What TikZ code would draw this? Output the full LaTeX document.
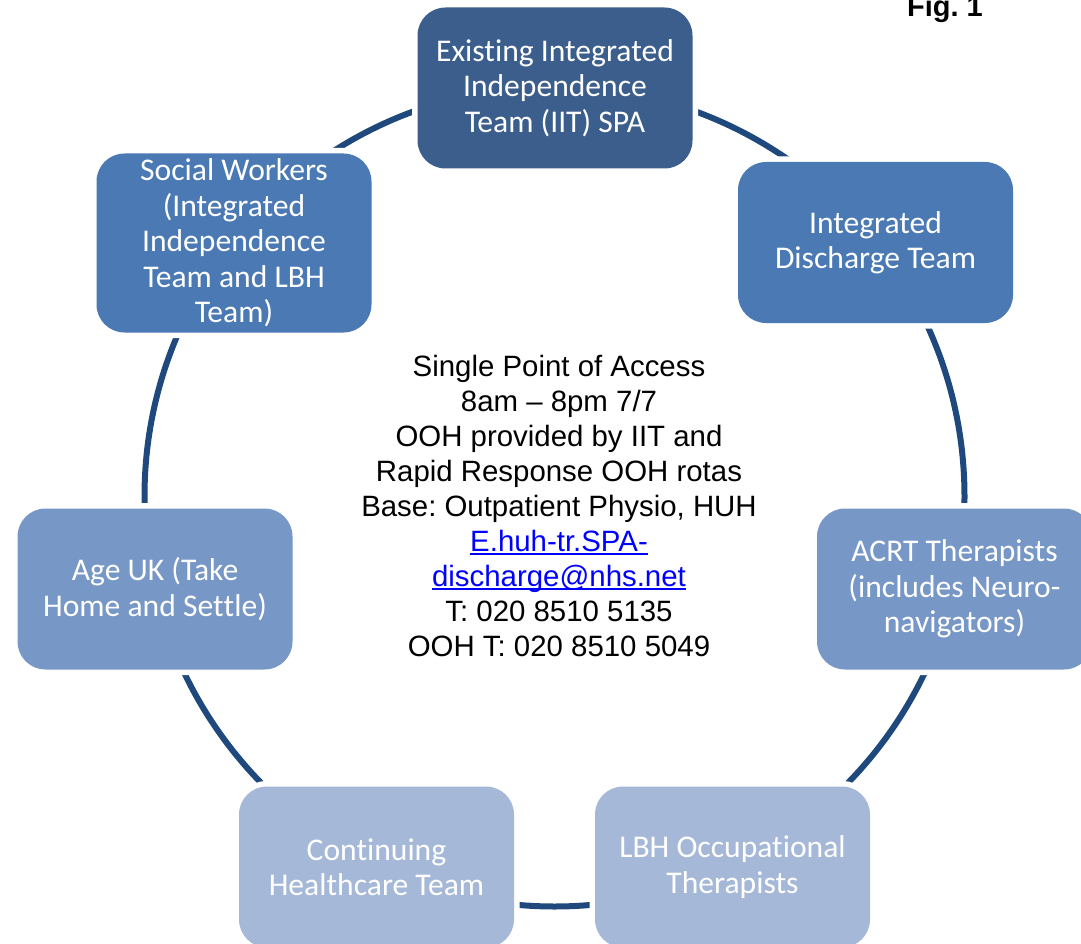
\documentclass[tikz,border=0pt]{standalone}
\usepackage{fontspec}
\setmainfont{Carlito}[Ligatures={NoCommon,NoContextual,NoRare}]
\newfontfamily\arialf{Liberation Sans}[Ligatures=TeX]
\definecolor{ringc}{HTML}{1F497D}
\definecolor{cA}{HTML}{3B5E8C}
\definecolor{cB}{HTML}{4A79B4}
\definecolor{cC}{HTML}{7797C6}
\definecolor{cD}{HTML}{A6B8D7}
\definecolor{linkc}{HTML}{0000FF}
\newcommand\myul[1]{\leavevmode\setbox0\hbox{#1}\rlap{\rule[-3.4pt]{\wd0}{1.7pt}}\box0}
\newcommand\nt{t\kern0pt }
\frenchspacing
\begin{document}
\begin{tikzpicture}[x=1pt,y=-1pt,
  boxst/.style={rounded corners=28pt, minimum width=275pt, minimum height=161pt,
    inner sep=0pt, text=white, align=center,
    font=\fontsize{31.6}{35.5}\selectfont,
    preaction={draw=white, line width=11pt}},
  ringst/.style={draw=ringc, line width=6pt}]
\useasboundingbox (0,0) rectangle (1081,944);
\clip (0,0) rectangle (1081,944);
\coordinate (O) at (554.5,496.5);
\draw[ringst] (O) circle[radius=410];
\node[boxst, fill=cA] (n1) at (555,88) {Exis\nt ing Integrated\\Independence\\Team (IIT) SPA};
\node[boxst, fill=cB] (n2) at (875.5,242.5) {Integrated\\Discharge Team};
\node[boxst, fill=cC] (n3) at (954.5,589) {ACRT Therapists\\(includes Neuro-\\navigators)};
\node[boxst, fill=cD] (n4) at (732.5,867) {LBH Occupa\nt ional\\Therapists};
\node[boxst, fill=cD] (n5) at (376.5,867) {Con\nt inuing\\Healthcare Team};
\node[boxst, fill=cC] (n6) at (155,589) {Age UK (Take\\Home and Se\nt\nt le)};
\node[boxst, fill=cB, minimum height=179pt] (n7) at (234,243) {Social Workers\\(Integrated\\Independence\\Team and LBH\\Team)};
\node[align=center, font=\arialf\fontsize{29.4}{35.1}\selectfont, inner sep=0pt] (ctr) at (559,506)
  {Single Point of Access\\8am – 8pm 7/7\\OOH provided by IIT and\\Rapid Response OOH rotas\\Base: Outpatient Physio, HUH\\
   \textcolor{linkc}{\myul{E.huh-tr.SPA-}}\\\textcolor{linkc}{\myul{discharge@nhs.net}}\\T: 020 8510 5135\\OOH T: 020 8510 5049};
\node[font=\arialf\bfseries\fontsize{29}{34}\selectfont, anchor=base, inner sep=0pt] (fig) at (945,17) {Fig. 1};
\end{tikzpicture}
\end{document}
